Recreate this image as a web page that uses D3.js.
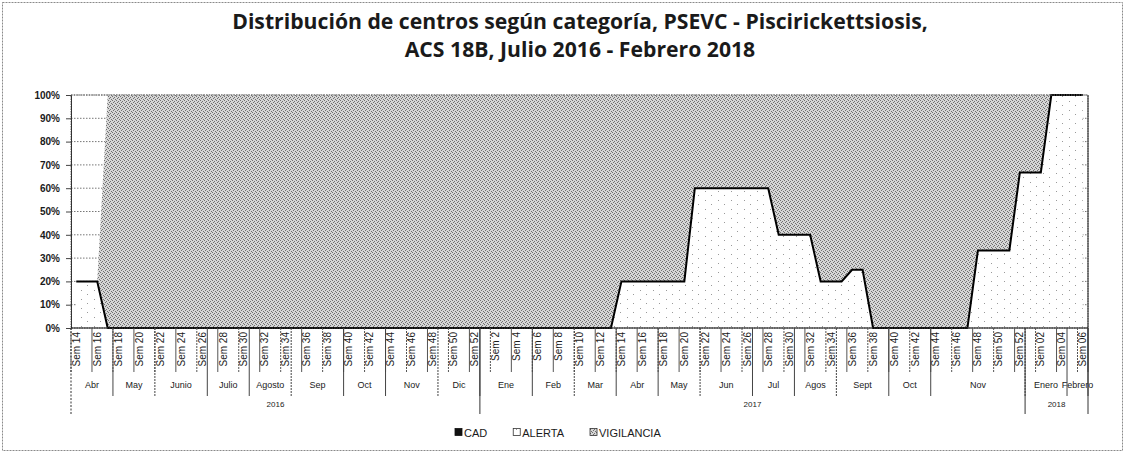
<!DOCTYPE html>
<html lang="es">
<head>
<meta charset="utf-8">
<title>Distribución de centros según categoría, PSEVC - Piscirickettsiosis</title>
<style>
  body { margin: 0; background: #fff; }
  svg text { font-family: "Liberation Sans", Arial, sans-serif; fill: #1a1a1a; }
  .title text { font-family: "Open Sans", sans-serif; font-weight: bold; }
  .ylab text { font-size: 10px; font-weight: bold; }
</style>
</head>
<body>
<div id="chart"></div>
<script src="https://cdn.jsdelivr.net/npm/d3@7"></script>
<script>
var width = 1125,
    height = 453;

var titleLines = ["Distribución de centros según categoría, PSEVC - Piscirickettsiosis,",
                  "ACS 18B, Julio 2016 - Febrero 2018"];

// eje de categorías: semanas por año
var years = ["2016", "2017", "2018"];
var yearFirstWeek = [14, 1, 1];
var yearLastWeek = [52, 52, 6];

// meses (nombre y número de semanas que abarcan)
var monthNames = ["Abr", "May", "Junio", "Julio", "Agosto", "Sep", "Oct", "Nov", "Dic",
                  "Ene", "Feb", "Mar", "Abr", "May", "Jun", "Jul", "Agos", "Sept", "Oct", "Nov",
                  "Enero", "Febrero"];
var monthWeeks = [4, 4, 5, 4, 4, 5, 4, 5, 4,
                  5, 4, 4, 4, 4, 5, 4, 4, 5, 4, 9,
                  4, 2];

var seriesNames = ["CAD", "ALERTA", "VIGILANCIA"];

// porcentaje de centros por semana
var cad = [
  0,0,0,0,0,0,0,0,0,0,0,0,0,0,0,0,0,0,0,0,0,0,0,0,0,0,0,0,0,0,0,0,0,0,0,0,0,0,0,
  0,0,0,0,0,0,0,0,0,0,0,0,0,0,0,0,0,0,0,0,0,0,0,0,0,0,0,0,0,0,0,0,0,0,0,0,0,0,0,0,0,0,0,0,0,0,0,0,0,0,0,0,
  0,0,0,0,0,0
];
var alerta = [
  20,20,20,0,0,0,0,0,0,0,0,0,0,0,0,0,0,0,0,0,0,0,0,0,0,0,0,0,0,0,0,0,0,0,0,0,0,0,0,
  0,0,0,0,0,0,0,0,0,0,0,0,0,20,20,20,20,20,20,20,60,60,60,60,60,60,60,60,40,40,40,40,20,20,20,25,25,
  0,0,0,0,0,0,0,0,0,0,33.3,33.3,33.3,33.3,66.7,
  66.7,66.7,100,100,100,100
];
var vigilancia = [
  0,0,0,100,100,100,100,100,100,100,100,100,100,100,100,100,100,100,100,100,100,100,100,100,100,100,100,100,100,100,100,100,100,100,100,100,100,100,100,
  100,100,100,100,100,100,100,100,100,100,100,100,100,80,80,80,80,80,80,80,40,40,40,40,40,40,40,40,60,60,60,60,80,80,80,75,75,
  100,100,100,100,100,100,100,100,100,100,66.7,66.7,66.7,66.7,33.3,
  33.3,33.3,0,0,0,0
];

// categorías
var weeks = [];
years.forEach(function(yr, k) {
  for (var w = yearFirstWeek[k]; w <= yearLastWeek[k]; w++) {
    var lbl = yr == "2018" ? "Sem " + (w < 10 ? "0" + w : w) : "Sem " + w;
    weeks.push({ year: yr, label: lbl });
  }
});

var data = weeks.map(function(d, i) {
  return { i: i, CAD: cad[i], ALERTA: alerta[i], VIGILANCIA: vigilancia[i] };
});

var plotLeft = 71, plotRight = 1088, plotTop = 95, plotBottom = 328;

var svg = d3.select("#chart")
    .append("svg")
    .attr("width", width)
    .attr("height", height);

// patrones de relleno
var defs = svg.append("defs");
var pv = defs.append("pattern").attr("id", "patVig")
    .attr("patternUnits", "userSpaceOnUse").attr("width", 4).attr("height", 4);
pv.append("rect").attr("width", 4).attr("height", 4).attr("fill", "#d6d6d6");
[[0,0],[2,1],[1,2],[3,3]].forEach(function(p) {
  pv.append("rect").attr("x", p[0]).attr("y", p[1]).attr("width", 1).attr("height", 1).attr("fill", "#707070");
});
var pa = defs.append("pattern").attr("id", "patAlerta")
    .attr("patternUnits", "userSpaceOnUse").attr("width", 13).attr("height", 9);
pa.append("rect").attr("width", 13).attr("height", 9).attr("fill", "#fff");
[[3,2],[9,6]].forEach(function(p) {
  pa.append("rect").attr("x", p[0]).attr("y", p[1]).attr("width", 1).attr("height", 1).attr("fill", "#9a9a9a");
});
var fills = { CAD: "#111", ALERTA: "url(#patAlerta)", VIGILANCIA: "url(#patVig)" };

// borde del gráfico
svg.append("rect")
    .attr("x", 2.5).attr("y", 2.5)
    .attr("width", width - 5).attr("height", height - 5)
    .attr("fill", "none").attr("stroke", "#8a8a8a").attr("stroke-dasharray", "2,1");

// título
var title = svg.append("g").attr("class", "title");
title.selectAll("text")
  .data(titleLines)
  .enter().append("text")
    .attr("x", 580)
    .attr("y", function(d, i) { return 29 + i * 28; })
    .attr("text-anchor", "middle")
    .style("font-size", "20px")
    .text(function(d) { return d; });
var tl = title.select("text").node().getComputedTextLength();
title.selectAll("text").style("font-size", (20 * 696 / tl) + "px");

var x = d3.scaleBand()
    .domain(d3.range(weeks.length))
    .range([plotLeft, plotRight]);

var y = d3.scaleLinear()
    .domain([0, 100])
    .range([plotBottom, plotTop]);

function xc(i) { return x(i) + x.bandwidth() / 2; }
function xb(i) { return i >= weeks.length ? plotRight : x(i); }

// líneas de división
svg.append("g").selectAll("line")
  .data(d3.range(10, 101, 10))
  .enter().append("line")
    .attr("x1", plotLeft).attr("x2", plotRight)
    .attr("y1", function(d) { return y(d); })
    .attr("y2", function(d) { return y(d); })
    .attr("stroke", "#777")
    .attr("stroke-dasharray", "1.5,1.5");

var stack = d3.stack().keys(seriesNames);
var layers = stack(data);

var area = d3.area()
    .x(function(d) { return xc(d.data.i); })
    .y0(function(d) { return y(d[0]); })
    .y1(function(d) { return y(d[1]); });

svg.append("g").selectAll("path")
  .data(layers)
  .enter().append("path")
    .attr("d", area)
    .attr("fill", function(d) { return fills[d.key]; });

// contorno de ALERTA
var line = d3.line()
    .x(function(d) { return xc(d.data.i); })
    .y(function(d) { return y(d[1]); });

svg.append("path")
    .datum(layers[1])
    .attr("d", line)
    .attr("fill", "none")
    .attr("stroke", "#000")
    .attr("stroke-width", 2);

// marco del área de trazado
svg.append("rect")
    .attr("x", plotLeft).attr("y", plotTop)
    .attr("width", plotRight - plotLeft).attr("height", plotBottom - plotTop)
    .attr("fill", "none").attr("stroke", "#666").attr("stroke-dasharray", "1.5,1");
svg.append("line")
    .attr("x1", plotRight).attr("x2", plotRight).attr("y1", plotTop).attr("y2", plotBottom)
    .attr("stroke", "#222");

// eje Y
svg.append("g")
    .attr("class", "ylab")
    .attr("transform", "translate(" + plotLeft + ",0)")
    .call(d3.axisLeft(y)
      .tickValues(d3.range(0, 101, 10))
      .tickSize(5)
      .tickPadding(6)
      .tickFormat(function(d) { return d + "%"; }))
    .call(function(g) { g.select(".domain").attr("stroke", "#333"); })
    .call(function(g) { g.selectAll(".tick line").attr("stroke", "#444"); });

// eje X: semanas
svg.append("line")
    .attr("x1", plotLeft).attr("x2", plotRight).attr("y1", plotBottom).attr("y2", plotBottom)
    .attr("stroke", "#111").attr("stroke-width", 1.2);

svg.append("g").selectAll("line")
  .data(d3.range(0, weeks.length + 1, 2).concat([weeks.length]))
  .enter().append("line")
    .attr("x1", function(d) { return xb(d); })
    .attr("x2", function(d) { return xb(d); })
    .attr("y1", plotBottom).attr("y2", 372)
    .attr("stroke", "#555")
    .attr("stroke-dasharray", function(d, i) { return i % 2 ? null : "2,1"; });

svg.append("g").selectAll("text")
  .data(weeks.filter(function(d, i) { return i % 2 == 0; }))
  .enter().append("text")
    .attr("transform", function(d, k) {
      return "translate(" + (xc(k * 2) + 3.5) + "," + (plotBottom + 4) + ") rotate(-90)";
    })
    .attr("text-anchor", "end")
    .style("font-size", "10px")
    .text(function(d) { return d.label; });

// eje X: meses
var mStart = 0;
var months = monthNames.map(function(m, k) {
  var o = { name: m, start: mStart, end: mStart + monthWeeks[k] };
  mStart += monthWeeks[k];
  return o;
});

svg.append("g").selectAll("line")
  .data(months)
  .enter().append("line")
    .attr("x1", function(d) { return xb(d.end); })
    .attr("x2", function(d) { return xb(d.end); })
    .attr("y1", plotBottom).attr("y2", 396)
    .attr("stroke", "#444")
    .attr("stroke-dasharray", function(d, i) { return i % 3 == 1 ? "2,1" : null; });

svg.append("g").selectAll("text")
  .data(months)
  .enter().append("text")
    .attr("x", function(d) { return (xb(d.start) + xb(d.end)) / 2; })
    .attr("y", 388)
    .attr("text-anchor", "middle")
    .style("font-size", "9px")
    .text(function(d) { return d.name; });

// eje X: años
var yStart = 0;
var yearRanges = years.map(function(yr, k) {
  var n = yearLastWeek[k] - yearFirstWeek[k] + 1;
  var o = { name: yr, start: yStart, end: yStart + n };
  yStart += n;
  return o;
});

svg.append("g").selectAll("line")
  .data([0].concat(yearRanges.map(function(d) { return d.end; })))
  .enter().append("line")
    .attr("x1", function(d) { return xb(d); })
    .attr("x2", function(d) { return xb(d); })
    .attr("y1", plotBottom).attr("y2", 414)
    .attr("stroke", "#333")
    .attr("stroke-dasharray", function(d, i) { return i == 0 ? "2,1.5" : null; });

svg.append("g").selectAll("text")
  .data(yearRanges)
  .enter().append("text")
    .attr("x", function(d) { return (xb(d.start) + xb(d.end)) / 2; })
    .attr("y", 407)
    .attr("text-anchor", "middle")
    .style("font-size", "8px")
    .text(function(d) { return d.name; });

// leyenda
var legend = svg.append("g");
var lx = 455;
seriesNames.forEach(function(s) {
  legend.append("rect")
      .attr("x", lx).attr("y", 428.5)
      .attr("width", 7).attr("height", 7)
      .attr("fill", fills[s])
      .attr("stroke", s == "CAD" ? "#111" : "#333")
      .attr("stroke-width", 0.8);
  var t = legend.append("text")
      .attr("x", lx + 9).attr("y", 436.5)
      .style("font-size", "11px")
      .text(s);
  lx += 9 + t.node().getComputedTextLength() + 26;
});
</script>
</body>
</html>
